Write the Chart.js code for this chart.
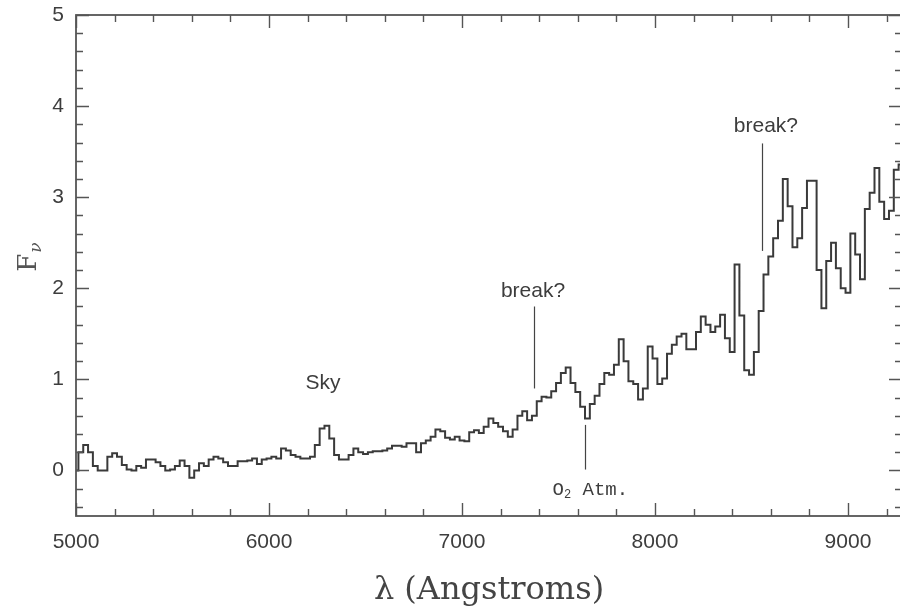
<!DOCTYPE html>
<html><head><meta charset="utf-8">
<script src="https://cdn.jsdelivr.net/npm/chart.js@4.4.1/dist/chart.umd.min.js"></script>
<style>
html,body{margin:0;padding:0;background:#fff;overflow:hidden;width:900px;height:610px}
#wrap{width:905px;height:610px}
canvas{display:block}
</style></head>
<body><div id="wrap"><canvas id="c" width="905" height="610"></canvas></div>
<script>
// Wavelength bins (Angstroms)
const wavelengths = [
5000,5025,5050,5075,5100,5125,5150,5175,5200,5225,5250,5275,5300,5325,5350,5375,5400,5425,5450,5475,
5500,5525,5550,5575,5600,5625,5650,5675,5700,5725,5750,5775,5800,5825,5850,5875,5900,5925,5950,5975,
6000,6025,6050,6075,6100,6125,6150,6175,6200,6225,6250,6275,6300,6325,6350,6375,6400,6425,6450,6475,
6500,6525,6550,6575,6600,6625,6650,6675,6700,6725,6750,6775,6800,6825,6850,6875,6900,6925,6950,6975,
7000,7025,7050,7075,7100,7125,7150,7175,7200,7225,7250,7275,7300,7325,7350,7375,7400,7425,7450,7475,
7500,7525,7550,7575,7600,7625,7650,7675,7700,7725,7750,7775,7800,7825,7850,7875,7900,7925,7950,7975,
8000,8025,8050,8075,8100,8125,8150,8175,8200,8225,8250,8275,8300,8325,8350,8375,8400,8425,8450,8475,
8500,8525,8550,8575,8600,8625,8650,8675,8700,8725,8750,8775,8800,8825,8850,8875,8900,8925,8950,8975,
9000,9025,9050,9075,9100,9125,9150,9175,9200,9225,9250,9275
];
// F_nu values
const flux = [
0.00,0.20,0.28,0.20,0.05,0.00,0.00,0.15,0.19,0.15,0.06,0.01,0.00,0.05,0.03,0.12,0.12,0.09,0.05,0.00,
0.01,0.05,0.11,0.05,-0.08,0.00,0.08,0.05,0.12,0.15,0.13,0.09,0.05,0.05,0.10,0.10,0.11,0.13,0.07,0.12,
0.13,0.15,0.13,0.24,0.22,0.17,0.15,0.13,0.13,0.15,0.28,0.46,0.49,0.35,0.17,0.12,0.12,0.17,0.24,0.20,
0.18,0.20,0.21,0.21,0.22,0.24,0.27,0.27,0.26,0.30,0.30,0.20,0.30,0.33,0.37,0.45,0.43,0.36,0.34,0.37,
0.33,0.32,0.42,0.44,0.41,0.48,0.57,0.52,0.48,0.43,0.37,0.45,0.60,0.65,0.55,0.60,0.76,0.81,0.80,0.87,
0.96,1.07,1.13,0.96,0.86,0.70,0.57,0.73,0.82,0.95,1.07,1.05,1.16,1.44,1.20,0.98,0.95,0.78,0.90,1.36,
1.23,0.95,1.01,1.28,1.38,1.47,1.50,1.33,1.33,1.52,1.69,1.60,1.52,1.58,1.71,1.45,1.30,2.26,1.70,1.10,
1.05,1.30,1.75,2.15,2.35,2.55,2.74,3.20,2.90,2.45,2.55,2.88,3.18,3.18,2.20,1.78,2.30,2.50,2.22,2.00,
1.95,2.60,2.37,2.10,2.87,3.05,3.32,2.95,2.76,2.85,3.30,3.36
];
const xTickValues = [5000,6000,7000,8000,9000];
const yTickValues = [0,1,2,3,4,5];
const xMinorStep = 200;
const yMinorStep = 0.2;
// Annotations (text, text anchor in data units, pointer line in data units)
const annotationTexts = ['Sky','break?','O\u2082 Atm.','break?'];
const annotationTextX = [6280, 7368, 7665, 8575];
const annotationTextY = [0.96, 1.97, -0.21, 3.78];
const annotationLineX = [null, 7373, 7637, 8554];
const annotationLineY0 = [null, 1.80, 0.50, 3.59];
const annotationLineY1 = [null, 0.90, 0.01, 2.41];

const points = wavelengths.map((w,i)=>({x:w,y:flux[i]}));
const FRAME = '#555';
const TXT = '#3d3d3d';

const frameTicks = {
  id:'frameTicks',
  afterDatasetsDraw(chart){
    const {ctx, chartArea:a, scales:{x,y}} = chart;
    ctx.save();
    ctx.strokeStyle = FRAME;
    ctx.lineWidth = 1.8;
    ctx.strokeRect(a.left, a.top, a.right-a.left, a.bottom-a.top);
    ctx.lineWidth = 1.4;
    ctx.beginPath();
    for (let i = Math.ceil(x.min/xMinorStep); i*xMinorStep <= x.max; i++) {
      const v = i*xMinorStep;
      const len = xTickValues.includes(v) ? 13 : 7;
      const px = Math.round(x.getPixelForValue(v))+0.5;
      ctx.moveTo(px, a.bottom); ctx.lineTo(px, a.bottom-len);
      ctx.moveTo(px, a.top); ctx.lineTo(px, a.top+len);
    }
    for (let i = Math.ceil(y.min/yMinorStep - 1e-9); i*yMinorStep <= y.max + 1e-9; i++) {
      const v = +(i*yMinorStep).toFixed(4);
      const len = yTickValues.includes(v) ? 13 : 7;
      const py = Math.round(y.getPixelForValue(v))+0.5;
      ctx.moveTo(a.left, py); ctx.lineTo(a.left+len, py);
      ctx.moveTo(a.right, py); ctx.lineTo(a.right-len, py);
    }
    ctx.stroke();

    // annotations
    ctx.strokeStyle = '#444';
    ctx.lineWidth = 1.2;
    ctx.fillStyle = TXT;
    ctx.textAlign = 'center';
    ctx.textBaseline = 'middle';
    const monoBig = '19px "Liberation Mono", monospace';
    const monoSmall = '12px "Liberation Mono", monospace';
    annotationTexts.forEach((t,i)=>{
      const tx = x.getPixelForValue(annotationTextX[i]);
      const ty = y.getPixelForValue(annotationTextY[i]);
      if (t.startsWith('O')) {
        ctx.font = monoBig;
        const w1 = ctx.measureText('O').width;
        const rest = ' Atm.';
        const w3 = ctx.measureText(rest).width;
        ctx.font = monoSmall;
        const w2 = ctx.measureText('2').width;
        const total = w1+w2+w3;
        let sx = tx - total/2;
        ctx.textAlign = 'left';
        ctx.font = monoBig;
        ctx.fillText('O', sx, ty);
        ctx.font = monoSmall;
        ctx.fillText('2', sx+w1, ty+5);
        ctx.font = monoBig;
        ctx.fillText(rest, sx+w1+w2, ty);
        ctx.textAlign = 'center';
      } else {
        ctx.font = '21px "Liberation Sans", Arial, sans-serif';
        ctx.fillText(t, tx, ty);
      }
      if (annotationLineX[i] !== null) {
        const lx = Math.round(x.getPixelForValue(annotationLineX[i]))+0.5;
        ctx.beginPath();
        ctx.moveTo(lx, y.getPixelForValue(annotationLineY0[i]));
        ctx.lineTo(lx, y.getPixelForValue(annotationLineY1[i]));
        ctx.stroke();
      }
    });

    // y axis title F_nu (rotated)
    const cy = (a.top + a.bottom)/2 - 8;
    ctx.translate(27, cy);
    ctx.rotate(-Math.PI/2);
    ctx.textAlign = 'left';
    ctx.textBaseline = 'alphabetic';
    ctx.font = '26px "DejaVu Serif", serif';
    const fw = ctx.measureText('F').width;
    ctx.font = 'italic 17px "DejaVu Serif", serif';
    const nw = ctx.measureText('\u03bd').width;
    const start = -(fw+nw)/2;
    ctx.fillStyle = '#555';
    ctx.font = '26px "DejaVu Serif", serif';
    ctx.fillText('F', start, 9);
    ctx.font = 'italic 17px "DejaVu Serif", serif';
    ctx.fillText('\u03bd', start+fw+1, 14);
    ctx.restore();
  }
};

new Chart(document.getElementById('c'), {
  type: 'line',
  data: { datasets: [{
    data: points,
    stepped: 'middle',
    borderColor: '#3a3a3a',
    borderWidth: 2,
    pointRadius: 0,
    fill: false
  }]},
  options: {
    responsive: false,
    animation: false,
    devicePixelRatio: 1,
    layout: { padding: { top: 15, right: 3, left: 0, bottom: 0 } },
    plugins: { legend: {display:false}, tooltip: {enabled:false}, title:{display:false} },
    scales: {
      x: {
        type: 'linear', min: 5000, max: 9280,
        grid: { display: false },
        border: { display: false },
        afterBuildTicks: s => { s.ticks = xTickValues.map(v=>({value:v})); },
        afterFit: s => { s.height = 94; s.paddingLeft = 0; s.paddingRight = 0; },
        ticks: { color: TXT, font: { family: '"Liberation Sans", Arial, sans-serif', size: 21 }, padding: 6, maxRotation: 0, callback: v => String(v) },
        title: { display: true, text: '\u03bb (Angstroms)', color: '#444', font: { family: '"DejaVu Serif", serif', size: 32 }, padding: { top: 12, bottom: 0 } }
      },
      y: {
        type: 'linear', min: -0.5, max: 5,
        grid: { display: false },
        border: { display: false },
        afterBuildTicks: s => { s.ticks = yTickValues.map(v=>({value:v})); },
        afterFit: s => { s.width = 76; s.paddingTop = 0; s.paddingBottom = 0; },
        ticks: { color: TXT, font: { family: '"Liberation Sans", Arial, sans-serif', size: 21 }, padding: 4, callback: v => String(v) }
      }
    }
  },
  plugins: [frameTicks]
});
</script>
</body></html>
